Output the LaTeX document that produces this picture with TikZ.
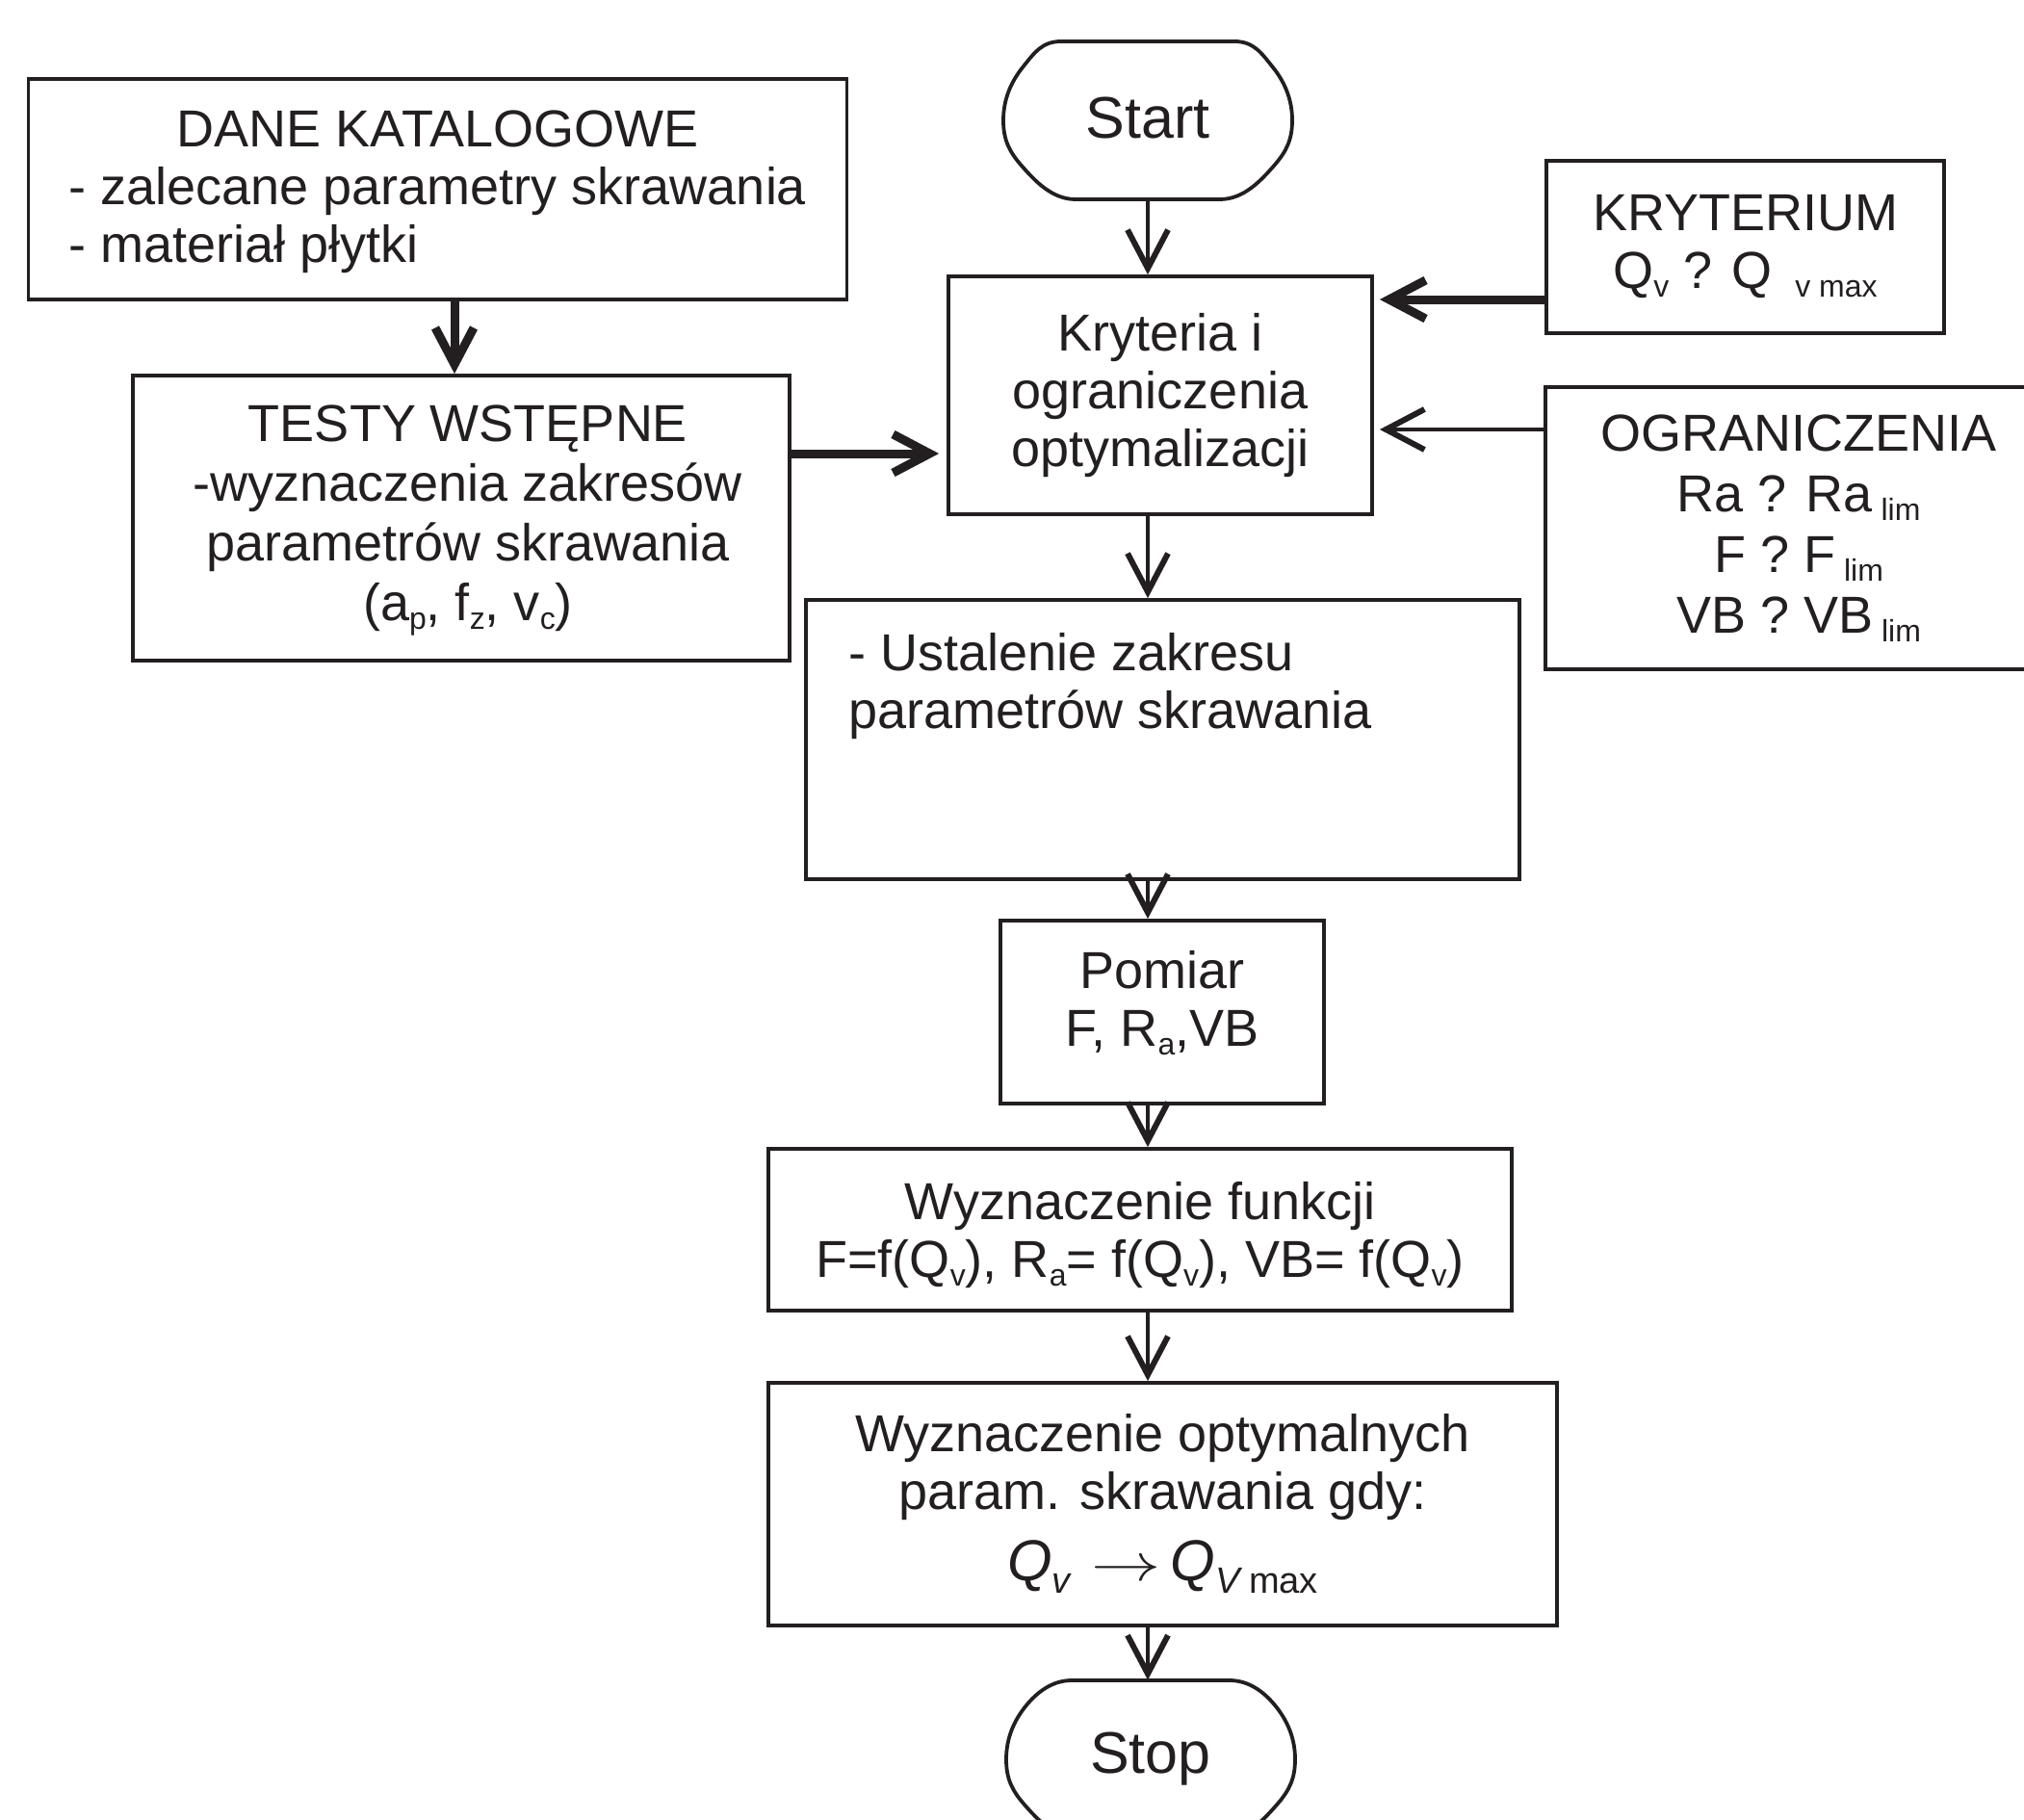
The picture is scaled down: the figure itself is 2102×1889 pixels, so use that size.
\documentclass[tikz,border=0pt]{standalone}
\usepackage{fontspec}
\usepackage{graphicx}
\setmainfont{Liberation Sans}
\usetikzlibrary{arrows.meta}
\definecolor{ink}{RGB}{35,31,32}
\newcommand\mysub[1]{\raisebox{-4.5pt}{\fontsize{16}{16}\selectfont #1}}
\newcommand\mysubb[1]{\raisebox{-6.5pt}{\fontsize{19}{19}\selectfont #1}}
% terminal outline, #1 = half length of the top flat
\newcommand\termpath[1]{(-#1,-82) -- (#1,-82)
  .. controls (#1+20,-82) and (118,-70) .. (130,-55)
  .. controls (142,-40) and (150,-22) .. (150,0)
  .. controls (150,20) and (144,32) .. (132,46)
  .. controls (118,62) and (100,82) .. (75,82) -- (-75,82)
  .. controls (-100,82) and (-118,62) .. (-132,46)
  .. controls (-144,32) and (-150,20) .. (-150,0)
  .. controls (-150,-22) and (-142,-40) .. (-130,-55)
  .. controls (-118,-70) and (-#1-20,-82) .. (-#1,-82) -- cycle}
\begin{document}
\begin{tikzpicture}[x=0.5pt,y=-0.5pt,
  every node/.style={text=ink},
  box/.style={draw=ink, line width=1.9pt, rectangle, inner sep=0pt},
  txt/.style={font=\fontsize{27}{30}\selectfont, align=center},
  term/.style={draw=ink, line width=1.9pt, line join=round},
  arr/.style={draw=ink, line width=2.2pt, -{Straight Barb[length=20pt,width=21pt,line width=3pt]}},
  thickarr/.style={draw=ink, line width=4.5pt, -{Straight Barb[length=19pt,width=20pt]}},
]
\useasboundingbox (0,0) rectangle (2102,1889);
\clip (0,0) rectangle (2102,1889);

% terminals
\node[minimum width=150pt, minimum height=82pt, inner sep=0pt,
      font=\fontsize{30.5}{34}\selectfont] (start) at (1192,125) {\raisebox{2.5pt}{Start}};
\begin{scope}[shift={(1192,125)}]
\draw[term] \termpath{90};
\end{scope}

\node[minimum width=150pt, minimum height=82pt, inner sep=0pt,
      font=\fontsize{30.5}{34}\selectfont] (stop) at (1195,1827) {Stop};
\begin{scope}[shift={(1195,1827)}]
\draw[term] \termpath{82};
\end{scope}

% boxes
\node[box, minimum width=425pt, minimum height=114.5pt] (dane) at (454.5,196.5) {};
\node[txt] (danetxt) at ([yshift=-2pt]dane.center) {\begin{tabular}{@{}l@{}}\multicolumn{1}{@{}c@{}}{DANE KATALOGOWE}\\- zalecane parametry skrawania\\- materiał płytki\end{tabular}};

\node[box, minimum width=341pt, minimum height=148pt] (testy) at (479,538) {};
\node[txt, font=\fontsize{27}{31}\selectfont] (testytxt) at ([xshift=3.5pt,yshift=-1pt]testy.center)
  {TESTY WSTĘPNE\\-wyznaczenia zakresów\\parametrów skrawania\\(a\mysub{p}, f\mysub{z}, v\mysub{c})};

\node[box, txt, minimum width=220pt, minimum height=123.5pt] (kryteria) at (1205,410.5)
  {Kryteria i\\ograniczenia\\optymalizacji};

\node[box, txt, minimum width=206.5pt, minimum height=89.5pt] (kryterium) at (1812.5,256.5)
  {KRYTERIUM\\Q\mysub{v} ? Q\hspace{12pt}\mysub{v max}};

\node[box, txt, minimum width=263pt, minimum height=146.5pt, font=\fontsize{27}{31.5}\selectfont] (ogr) at (1868,548.5)
  {OGRANICZENIA\\Ra ? Ra\,\mysub{lim}\\F ? F\,\mysub{lim}\\VB ? VB\,\mysub{lim}};

\node[box, minimum width=370.5pt, minimum height=145pt] (ustal) at (1207.5,768) {};
\node[txt, anchor=base west, inner sep=0pt] (ustaltxt) at (881,696)
  {\begin{tabular}[t]{@{}l@{}}- Ustalenie zakresu\\parametrów skrawania\end{tabular}};

\node[box, minimum width=168pt, minimum height=95pt] (pomiar) at (1207,1051) {};
\node[txt] (pomiartxt) at ([yshift=4.5pt]pomiar.center) {Pomiar\\F, R\mysub{a},VB};

\node[box, minimum width=386pt, minimum height=84pt] (wf) at (1184,1277) {};
\node[txt] (wftxt) at ([yshift=-3pt]wf.center)
  {Wyznaczenie funkcji\\F=f(Q\mysub{v}), R\mysub{a}= f(Q\mysub{v}), VB= f(Q\mysub{v})};

\node[box, txt, minimum width=409.5pt, minimum height=126pt] (wo) at (1207.5,1562)
  {Wyznaczenie optymalnych\\param. skrawania gdy:\\[7pt]{\fontsize{30}{30}\selectfont\textit{Q}\mysubb{\textit{v}}\hspace{10pt}\scalebox{1.45}[1.1]{$\rightarrow$}\hspace{5pt}\textit{Q}\mysubb{\textit{V}\,max}}};

% helper coordinates
\coordinate (yk) at (0,311);
\coordinate (yo) at (0,446);
\coordinate (yt) at (0,471);
\coordinate (xd) at (472,0);

% connectors
\draw[arr] (start.south) -- (kryteria.north -| start.south);
\draw[thickarr] (kryterium.west |- yk) -- ([xshift=3pt]kryteria.east |- yk);
\draw[arr] (ogr.west |- yo) -- ([xshift=3pt]kryteria.east |- yo);
\draw[thickarr] (dane.south -| xd) -- (testy.north -| xd);
\draw[thickarr] (testy.east |- yt) -- ([xshift=-4pt]kryteria.west |- yt);
\draw[arr] (kryteria.south -| start) -- (ustal.north -| start);
\draw[arr] (ustal.south -| start) -- (pomiar.north -| start);
\draw[arr] (pomiar.south -| start) -- (wf.north -| start);
\draw[arr] (wf.south -| start) -- (wo.north -| start);
\draw[arr] (wo.south -| start) -- (stop.north -| start);
\end{tikzpicture}
\end{document}
